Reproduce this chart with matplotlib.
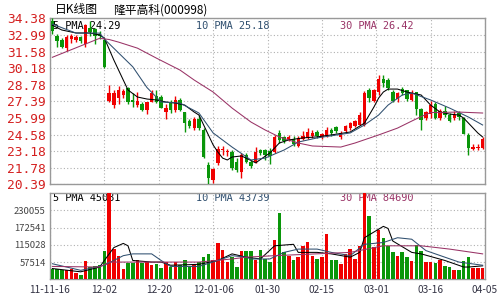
import numpy as np
import matplotlib.pyplot as plt

plt.rcParams['font.family'] = ['Noto Sans CJK SC', 'DejaVu Sans']

# chart texts
title_left = "日K线图"
title_right = "隆平高科(000998)"
date_labels = ['11-11-16', '12-02', '12-20', '12-01-06', '01-30',
               '02-15', '03-01', '03-16', '04-05']
price_ticks = [20.39, 21.78, 23.18, 24.58, 25.99, 27.39,
               28.78, 30.18, 31.58, 32.99, 34.38]
vol_ticks = [57514, 115028, 172541, 230055]
price_legend = ['5 PMA 24.29', '10 PMA 25.18', '30 PMA 26.42']
vol_legend = ['5 PMA 45081', '10 PMA 43739', '30 PMA 84690']

# daily candles
opens = [34.2, 32.9, 32.55, 31.85, 32.6, 32.55, 32.8, 32.2, 33.6, 33.5,
         33.1, 32.55, 27.4, 27.1, 27.65, 27.9, 28.5, 27.5, 27.1, 27.15,
         26.65, 27.35, 27.8, 27.75, 26.5, 27.3, 26.65, 27.5, 26.45, 25.75,
         25.1, 25.9, 24.95, 22.0, 20.75, 22.15, 23.3, 23.15, 23.15, 22.3,
         21.45, 22.85, 22.3, 22.3, 23.3, 23.3, 23.2, 23.15, 24.7, 24.35,
         24.1, 24.25, 23.6, 24.25, 24.3, 24.5, 24.8, 24.4, 24.5, 25.0,
         25.2, 24.4, 24.85, 25.15, 25.3, 25.4, 25.4, 28.35, 27.45, 28.15,
         29.25, 29.2, 28.2, 27.6, 28.4, 28.3, 27.5, 28.15, 26.7, 26.0,
         26.3, 27.15, 26.0, 26.55, 26.25, 26.0, 26.4, 26.0, 24.55, 23.4,
         23.45, 23.45]
highs = [34.38, 33.1, 32.7, 33.0, 33.1, 33.0, 32.9, 33.9, 34.2, 33.6,
         33.3, 32.7, 28.8, 28.3, 28.7, 28.4, 28.6, 28.1, 28.2, 27.3,
         27.35, 28.35, 28.3, 27.9, 27.2, 27.5, 27.8, 27.65, 26.5, 25.9,
         26.1, 26.2, 25.1, 22.3, 21.8, 23.6, 23.65, 23.4, 23.3, 22.6,
         23.0, 23.0, 22.45, 23.5, 23.4, 23.35, 23.45, 24.55, 25.0, 24.5,
         24.55, 24.45, 24.45, 24.9, 25.1, 24.95, 25.0, 24.75, 25.2, 25.15,
         25.3, 24.85, 25.4, 25.65, 25.8, 26.5, 28.25, 28.55, 28.45, 29.6,
         29.6, 29.35, 28.35, 28.15, 28.6, 28.35, 28.3, 28.2, 26.85, 26.6,
         27.4, 27.3, 26.7, 26.95, 26.4, 26.6, 26.55, 26.1, 24.7, 23.75,
         23.8, 24.35]
lows = [33.1, 31.95, 31.85, 31.6, 32.3, 32.4, 32.3, 32.0, 32.9, 32.2,
        32.6, 30.2, 27.3, 26.8, 27.2, 27.7, 27.2, 26.9, 26.9, 26.6,
        26.3, 27.3, 27.25, 26.8, 25.9, 26.4, 26.5, 26.55, 24.8, 25.1,
        24.95, 24.95, 22.6, 20.39, 20.5, 22.0, 22.9, 22.8, 21.6, 21.45,
        20.95, 22.2, 21.8, 22.2, 22.9, 22.4, 22.1, 23.0, 23.9, 23.9,
        24.0, 23.6, 23.5, 24.1, 24.2, 24.3, 24.3, 24.25, 24.35, 24.5,
        24.7, 24.2, 24.8, 25.0, 25.2, 25.4, 25.3, 27.3, 27.3, 27.95,
        28.6, 28.35, 27.35, 27.3, 27.9, 27.45, 27.4, 26.25, 25.0, 25.85,
        26.0, 25.9, 25.85, 26.1, 25.65, 25.85, 25.85, 24.6, 22.9, 23.3,
        23.3, 23.4]
closes = [33.3, 32.5, 32.0, 32.85, 32.9, 32.8, 32.45, 33.8, 33.2, 32.9,
          32.9, 30.3, 28.1, 28.1, 28.35, 28.25, 27.3, 27.3, 27.4, 26.65,
          27.3, 28.1, 27.35, 26.85, 26.85, 26.65, 27.5, 26.65, 25.6, 25.3,
          25.9, 25.1, 22.7, 20.9, 21.7, 23.4, 23.4, 23.2, 21.75, 21.6,
          22.85, 22.3, 21.9, 23.1, 23.0, 22.9, 22.8, 24.4, 24.1, 24.0,
          24.4, 23.75, 24.3, 24.5, 24.8, 24.7, 24.45, 24.6, 25.0, 24.7,
          24.85, 24.7, 25.3, 25.55, 25.7, 26.25, 28.05, 27.65, 28.3, 29.25,
          28.9, 28.55, 27.45, 28.05, 28.1, 27.6, 28.1, 26.7, 25.85, 26.5,
          27.05, 26.0, 26.55, 26.25, 25.75, 26.2, 26.1, 24.65, 23.45, 23.5,
          23.55, 24.25]
volumes = [33700, 33700, 30000, 30000, 36000, 22000, 14000, 60000, 41000, 43000,
           47000, 93500, 290000, 101000, 79000, 36000, 54000, 54000, 63000, 54000,
           57600, 47000, 50000, 39000, 57600, 41000, 57600, 47000, 63000, 41000,
           47000, 57600, 76000, 85000, 63000, 120000, 98000, 57600, 74000, 41000,
           96000, 96000, 96000, 63000, 98000, 68000, 57600, 130000, 220000, 90000,
           79000, 63000, 76000, 112000, 126000, 79000, 68000, 74000, 150000, 65000,
           63000, 52000, 85000, 101000, 68000, 112000, 290000, 210000, 109000, 166000,
           139000, 112000, 90000, 79000, 90000, 76000, 61000, 115000, 96000, 57600,
           57600, 54000, 63000, 43000, 41000, 30000, 30000, 61000, 74000, 38000,
           38000, 38000]

# moving average lines (day index, value)
ma5_days = [0, 2, 5, 8, 10, 11, 13, 15, 16, 18, 20, 22, 24, 26, 28, 30, 31, 32,
            33, 34, 35, 36, 37, 38, 40, 42, 43, 46, 48, 50, 53, 56, 59, 63, 66,
            68, 69, 70, 71, 73, 75, 78, 80, 82, 84, 86, 87, 89, 90, 91]
ma5_vals = [33.8, 33.4, 33.15, 33.15, 32.98, 32.72, 30.87, 29.18, 28.34, 27.75,
            27.58, 27.5, 27.33, 27.24, 27.07, 26.48, 26.23, 25.39, 24.55, 23.71,
            23.11, 22.6, 22.44, 22.69, 22.78, 22.4, 22.2, 23.03, 23.87, 24.13,
            24.3, 24.39, 24.55, 24.8, 25.55, 26.9, 27.66, 28.17, 28.42, 28.42,
            28.17, 27.92, 27.07, 26.48, 26.31, 26.23, 25.97, 25.13, 24.71, 24.38]
ma10_days = [0, 5, 10, 11, 17, 20, 23, 27, 31, 34, 38, 42, 45, 49, 52, 56, 63,
             66, 69, 71, 74, 76, 80, 84, 88, 91]
ma10_vals = [33.9, 33.14, 33.14, 32.64, 30.3, 28.55, 27.33, 27.24, 26.4, 24.72,
             23.53, 22.44, 22.6, 23.28, 23.95, 24.3, 24.72, 25.39, 26.23, 27.07,
             27.92, 28.08, 27.5, 26.82, 26.06, 25.39]
ma30_days = [0, 5, 10, 12, 14, 18, 22, 27, 30, 34, 38, 42, 45, 48, 52, 55, 61,
             64, 69, 73, 76, 78, 80, 86, 91]
ma30_vals = [31.1, 31.9, 32.7, 32.6, 32.38, 31.87, 31.03, 30.02, 29.18, 28.17,
             26.82, 25.64, 24.97, 24.38, 23.87, 23.62, 23.53, 23.87, 24.55, 25.13,
             25.72, 26.1, 26.44, 26.48, 26.4]

vma5_days = [0, 6, 10, 11, 13, 15, 16, 17, 21, 23, 25, 31, 35, 38, 41, 44, 47,
             51, 52, 56, 59, 63, 65, 66, 70, 71, 72, 76, 78, 83, 87, 88, 91]
vma5_vals = [36000, 25000, 41000, 63000, 106000, 120000, 112000, 63000, 57600,
             57600, 47000, 50000, 63000, 85000, 74000, 68000, 112000, 117000,
             90000, 90000, 85000, 74000, 90000, 139000, 177000, 170000, 128000,
             90000, 85000, 63000, 41000, 41000, 45000]
vma10_days = [0, 6, 11, 15, 17, 21, 23, 25, 31, 35, 38, 41, 42, 46, 49, 52, 56,
              59, 63, 66, 70, 73, 76, 79, 83, 86, 91]
vma10_vals = [52000, 30000, 47000, 79000, 85000, 85000, 63000, 43000, 43000,
              63000, 79000, 74000, 68000, 68000, 90000, 101000, 101000, 90000,
              79000, 117000, 123000, 139000, 134000, 96000, 74000, 57600, 47000]
vma30_days = [0, 10, 12, 31, 38, 41, 47, 63, 70, 78, 84, 91]
vma30_vals = [43000, 41000, 57600, 57600, 68000, 74000, 79000, 90000, 112000,
              112000, 101000, 85000]

RED = '#f00000'
GREEN = '#0a960a'
MA_COLORS = ['#000000', '#2f4f6f', '#993366']
GRID = '#b0b0b0'
FRAME = '#999999'

days = np.arange(len(closes))
o = np.array(opens)
c = np.array(closes)
up = c >= o
bar_colors = np.where(up, RED, GREEN)

fig = plt.figure(figsize=(5, 3), dpi=100)
ax1 = fig.add_axes([0.1, 0.3857, 0.87, 0.553])
ax2 = fig.add_axes([0.1, 0.069, 0.87, 0.2867])

xgrid = np.linspace(-0.5, len(days) - 0.5, len(date_labels))

# price panel
ax1.vlines(days, lows, highs, colors=bar_colors, lw=1, zorder=3)
body_low = np.minimum(o, c)
body_h = np.maximum(np.abs(c - o), 0.05)
ax1.bar(days, body_h, bottom=body_low, width=0.72, color=bar_colors,
        linewidth=0, zorder=3)
ax1.plot(ma5_days, ma5_vals, color=MA_COLORS[0], lw=0.75, zorder=4)
ax1.plot(ma10_days, ma10_vals, color=MA_COLORS[1], lw=0.75, zorder=4)
ax1.plot(ma30_days, ma30_vals, color=MA_COLORS[2], lw=0.75, zorder=4)
ax1.set_ylim(price_ticks[0], price_ticks[-1])
ax1.set_yticks(price_ticks)
ax1.set_yticklabels(['%.2f' % v for v in price_ticks], color='#d42020',
                    family='DejaVu Sans Mono', fontsize=9.3)

# volume panel
ax2.bar(days, volumes, width=0.75, color=bar_colors, linewidth=0, zorder=3)
ax2.plot(vma5_days, vma5_vals, color=MA_COLORS[0], lw=0.75, zorder=4)
ax2.plot(vma10_days, vma10_vals, color=MA_COLORS[1], lw=0.75, zorder=4)
ax2.plot(vma30_days, vma30_vals, color=MA_COLORS[2], lw=0.75, zorder=4)
ax2.set_ylim(0, vol_ticks[0] * 5)
ax2.set_yticks(vol_ticks)
ax2.set_yticklabels([str(v) for v in vol_ticks], color='#444444', fontsize=6.8)

for ax in (ax1, ax2):
    ax.set_xlim(-0.5, len(days) - 0.5)
    ax.set_xticks(xgrid)
    ax.grid(True, color=GRID, linestyle=(0, (1, 2)), linewidth=0.8, zorder=0)
    ax.set_axisbelow(True)
    ax.tick_params(length=0, pad=3)
    for s in ax.spines.values():
        s.set_color(FRAME)
        s.set_linewidth(1)

ax1.set_xticklabels([])
ax2.set_xticklabels(date_labels, color='#333344', fontsize=7.3)
ax2.tick_params(axis='x', pad=4)

# legend texts behind the bars
leg_x = [0.007, 0.336, 0.667]
for k in range(3):
    ax1.text(leg_x[k], 0.955, price_legend[k], transform=ax1.transAxes,
             color=MA_COLORS[k], family='DejaVu Sans Mono', fontsize=7.4,
             va='center', ha='left', zorder=1)
    ax2.text(leg_x[k], 0.95, vol_legend[k], transform=ax2.transAxes,
             color=MA_COLORS[k], family='DejaVu Sans Mono', fontsize=7.4,
             va='center', ha='left', zorder=1)

fig.text(0.11, 0.968, title_left, fontsize=8.5, va='center', ha='left')
fig.text(0.226, 0.968, title_right, fontsize=8.5, va='center', ha='left')

fig.savefig('out.png', dpi=100)
